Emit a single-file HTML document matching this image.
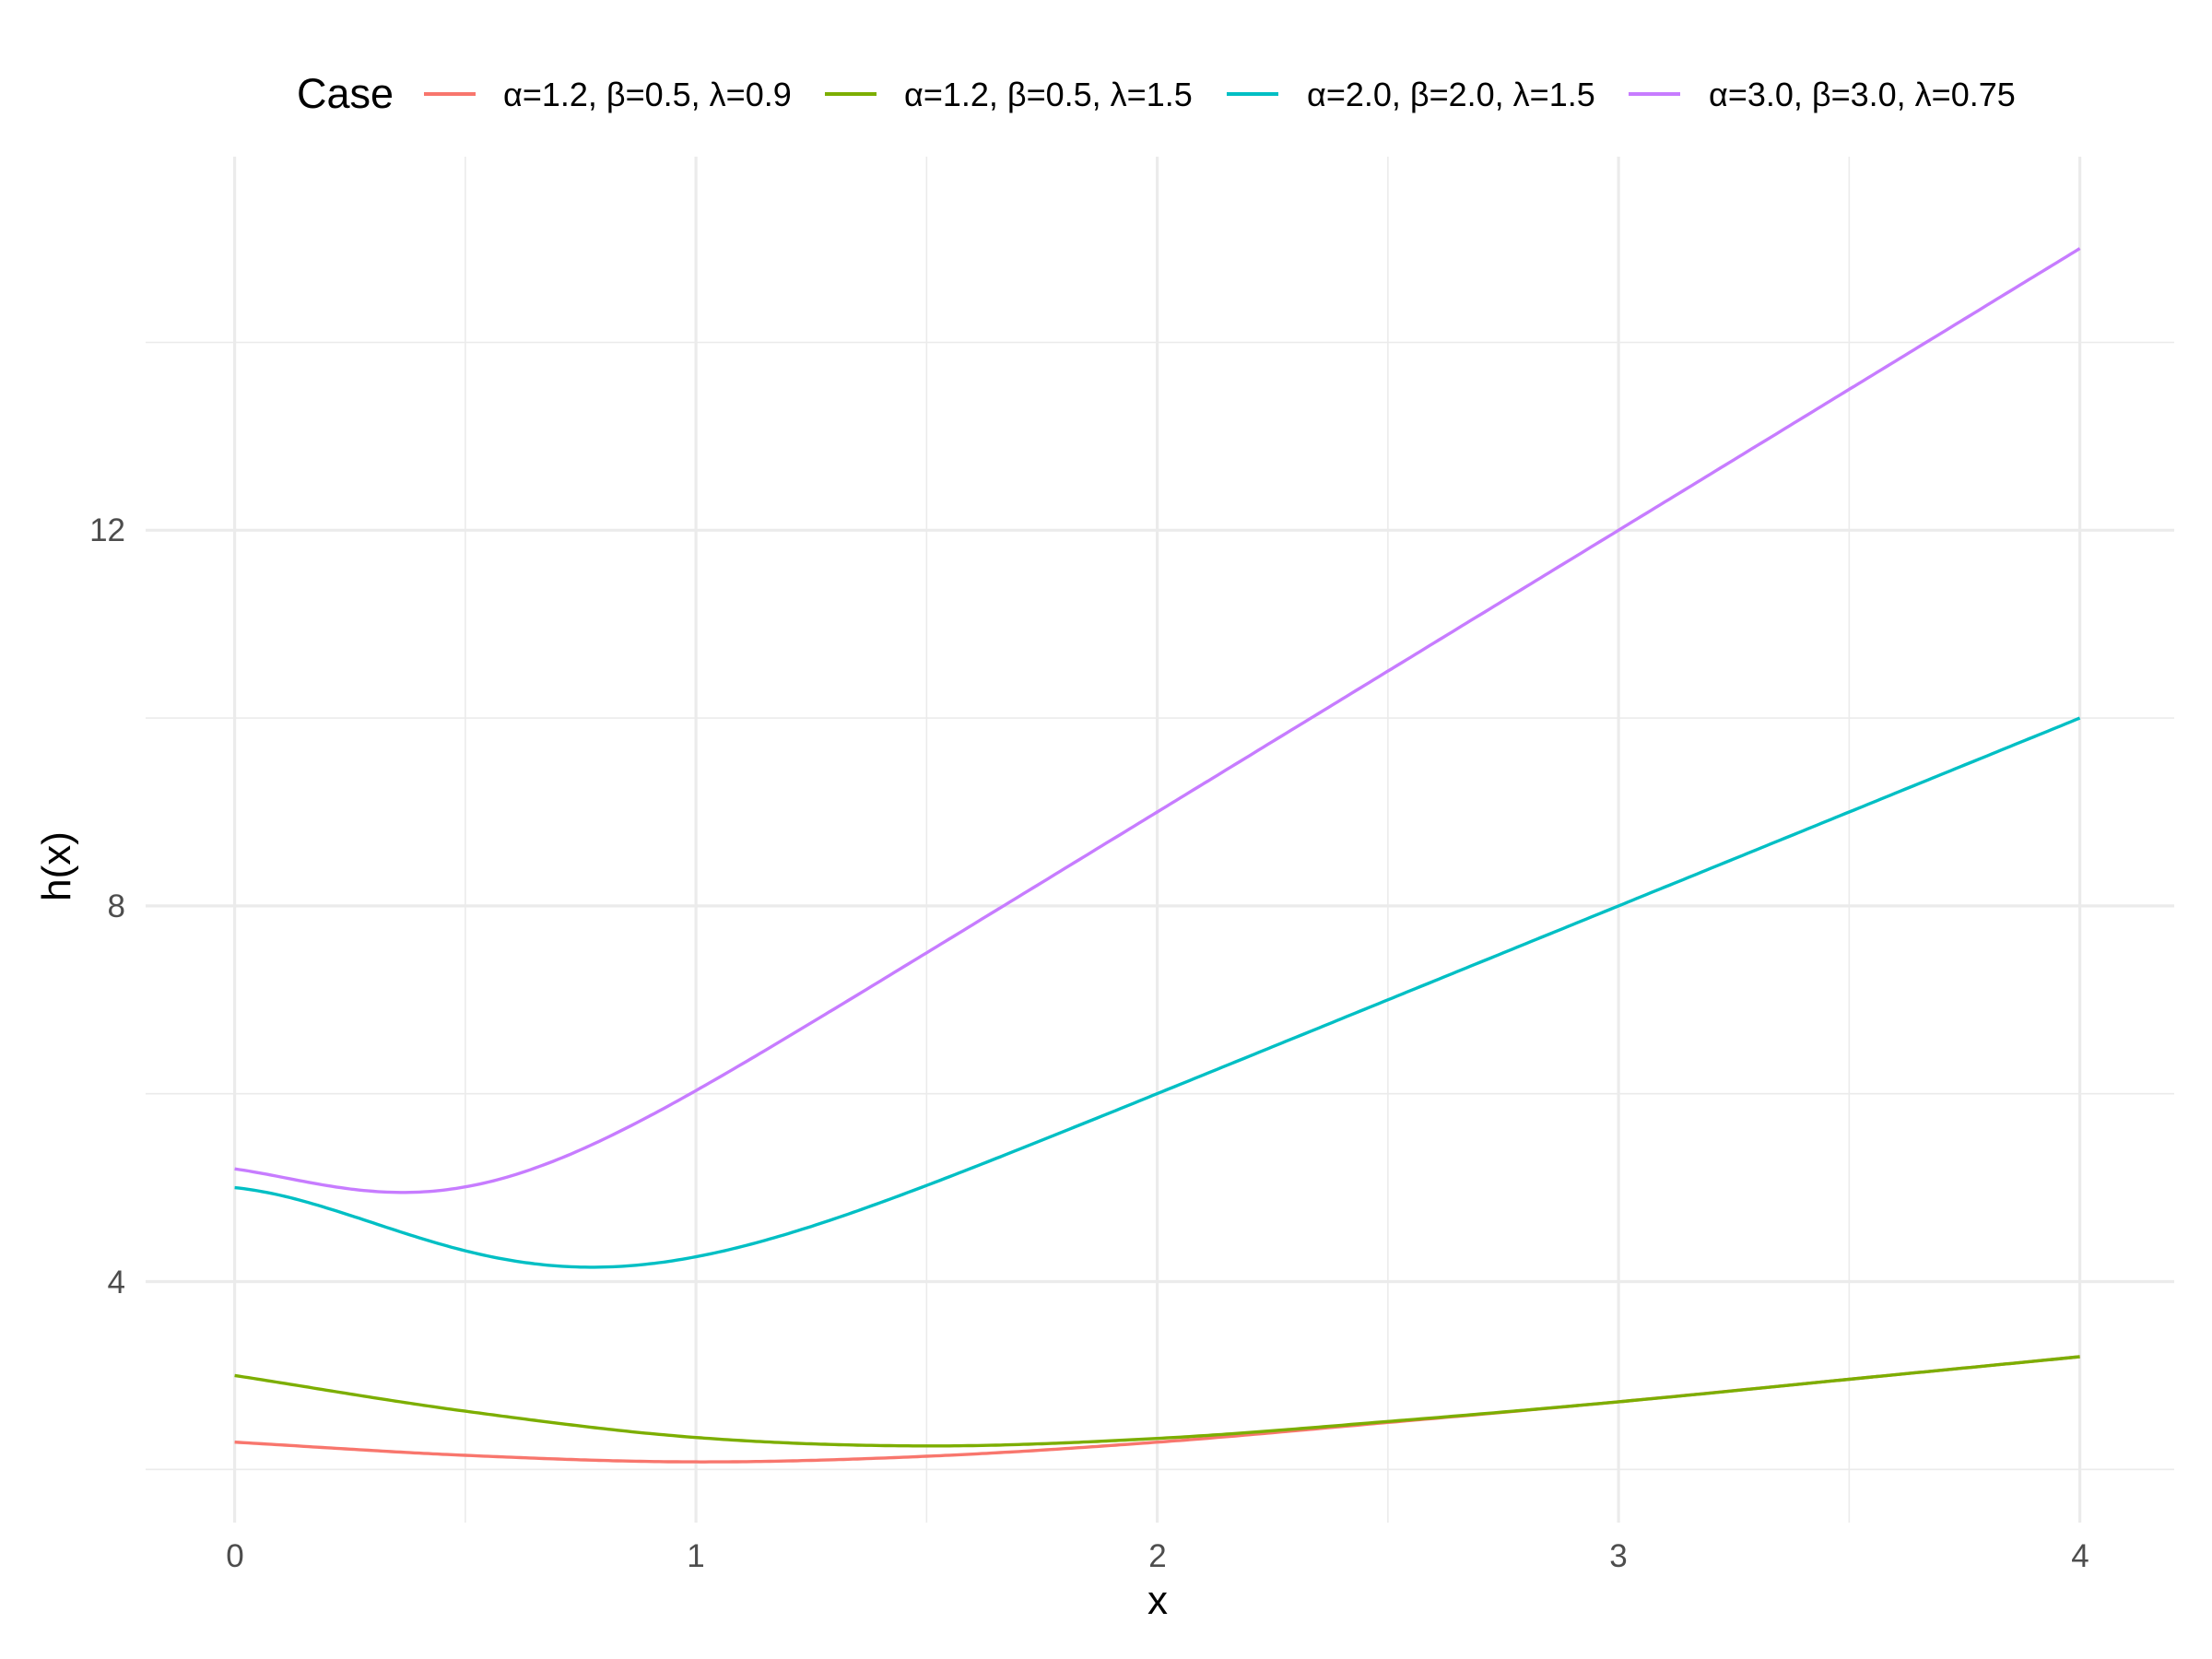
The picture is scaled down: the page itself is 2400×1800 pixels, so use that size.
<!DOCTYPE html>
<html><head><meta charset="utf-8"><style>html,body{margin:0;padding:0;background:#fff}svg{display:block}</style></head>
<body>
<svg id="s" width="2400" height="1800" xmlns="http://www.w3.org/2000/svg" font-family="Liberation Sans, DejaVu Sans, sans-serif">
<rect width="2400" height="1800" fill="#fff"/>
<g id="grid"></g>
<g id="lines" fill="none" stroke-width="3.4" stroke-linejoin="round" stroke-linecap="butt"></g>
<g font-size="35" fill="#4d4d4d">
<text x="136" y="587" text-anchor="end">12</text>
<text x="136" y="995" text-anchor="end">8</text>
<text x="136" y="1403" text-anchor="end">4</text>
<text x="255" y="1700" text-anchor="middle">0</text>
<text x="755" y="1700" text-anchor="middle">1</text>
<text x="1256" y="1700" text-anchor="middle">2</text>
<text x="1756" y="1700" text-anchor="middle">3</text>
<text x="2257" y="1700" text-anchor="middle">4</text>
</g>
<text x="1256" y="1751" font-size="44" text-anchor="middle" fill="#000">x</text>
<text transform="translate(76,940) rotate(-90)" font-size="44" text-anchor="middle" fill="#000">h(x)</text>
<g font-size="36" fill="#000">
<text x="322" y="117" font-size="45">Case</text>
<line x1="460" y1="102" x2="516" y2="102" stroke="#F8766D" stroke-width="4"/>
<text x="546" y="115">α=1.2, β=0.5, λ=0.9</text>
<line x1="895" y1="102" x2="951" y2="102" stroke="#7CAE00" stroke-width="4"/>
<text x="981" y="115">α=1.2, β=0.5, λ=1.5</text>
<line x1="1331" y1="102" x2="1387" y2="102" stroke="#00BFC4" stroke-width="4"/>
<text x="1418" y="115">α=2.0, β=2.0, λ=1.5</text>
<line x1="1767" y1="102" x2="1823" y2="102" stroke="#C77CFF" stroke-width="4"/>
<text x="1854" y="115">α=3.0, β=3.0, λ=0.75</text>
</g>
</svg>
<script>
var X=function(v){return 254.6+v*500.5},Y=function(v){return 982.9-(v-8)*101.9};
var g=document.getElementById('grid'),L=document.getElementById('lines'),ns='http://www.w3.org/2000/svg';
function ln(p,a,w){var e=document.createElementNS(ns,'line');for(var k in a)e.setAttribute(k,a[k]);e.setAttribute('stroke','#ebebeb');e.setAttribute('stroke-width',w);p.appendChild(e);}
var x0=158,x1=2359,y0=170,y1=1652;
[2,6,10,14].forEach(function(v){ln(g,{x1:x0,x2:x1,y1:Y(v),y2:Y(v)},1.6)});
[0.5,1.5,2.5,3.5].forEach(function(v){ln(g,{y1:y0,y2:y1,x1:X(v),x2:X(v)},1.6)});
[4,8,12].forEach(function(v){ln(g,{x1:x0,x2:x1,y1:Y(v),y2:Y(v)},3.2)});
[0,1,2,3,4].forEach(function(v){ln(g,{y1:y0,y2:y1,x1:X(v),x2:X(v)},3.2)});
function interp(pts,x){for(var i=0;i<pts.length-1;i++){if(x<=pts[i+1][0]){var p0=pts[Math.max(i-1,0)],p1=pts[i],p2=pts[i+1],p3=pts[Math.min(i+2,pts.length-1)];var t=(x-p1[0])/(p2[0]-p1[0]);var m1=(p2[1]-p0[1])/(p2[0]-p0[0])*(p2[0]-p1[0]),m2=(p3[1]-p1[1])/(p3[0]-p1[0])*(p2[0]-p1[0]);var t2=t*t,t3=t2*t;return (2*t3-3*t2+1)*p1[1]+(t3-2*t2+t)*m1+(-2*t3+3*t2)*p2[1]+(t3-t2)*m2;}}return pts[pts.length-1][1];}
var red=[[0,2.29],[0.5,2.15],[1,2.08],[1.5,2.14],[2,2.29],[2.5,2.5],[3,2.72],[3.5,2.96],[4,3.2]];
var grn=[[0,3.0],[0.5,2.62],[1,2.34],[1.5,2.25],[2,2.33],[2.5,2.51],[3,2.72],[3.5,2.96],[4,3.2]];
var fs=[['#F8766D',function(x){return interp(red,x)}],['#7CAE00',function(x){return interp(grn,x)}],
['#00BFC4',function(x){return 2*x+2+3*Math.exp(-0.83*x-1.6*x*x)}],
['#C77CFF',function(x){return 3*x+3+2.2*Math.exp(-1.68*x-2.5*x*x)}]];
fs.forEach(function(f){var d='';for(var i=0;i<=400;i++){var x=i/100;d+=(i?'L':'M')+X(x).toFixed(1)+' '+Y(f[1](x)).toFixed(1);}var p=document.createElementNS(ns,'path');p.setAttribute('d',d);p.setAttribute('stroke',f[0]);L.appendChild(p);});
</script>
</body></html>
